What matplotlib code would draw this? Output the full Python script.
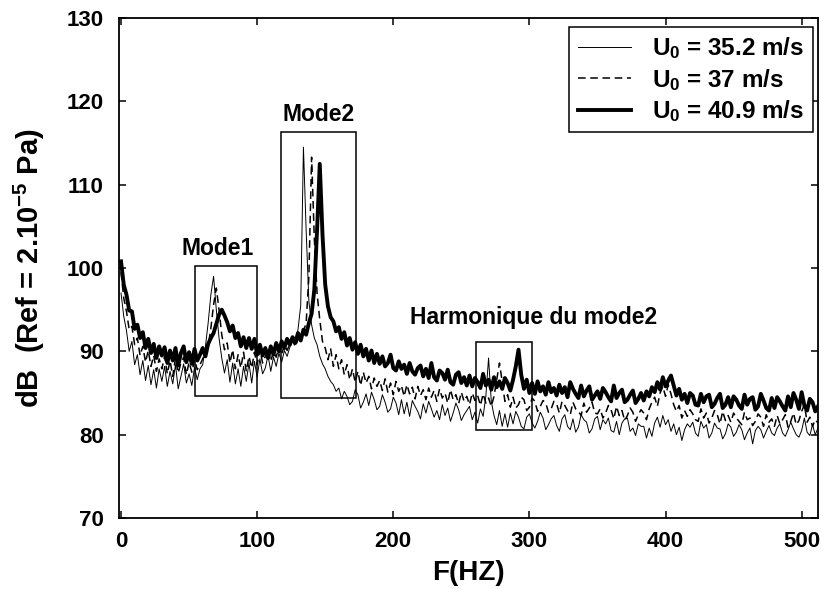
import numpy as np
import matplotlib
matplotlib.use("Agg")
import matplotlib.pyplot as plt
from matplotlib.patches import Rectangle
from matplotlib.lines import Line2D

plt.rcParams['font.family'] = ['Liberation Sans', 'DejaVu Sans']
plt.rcParams['font.weight'] = 'bold'
plt.rcParams['mathtext.fontset'] = 'custom'
plt.rcParams['mathtext.rm'] = 'Liberation Sans:bold'
plt.rcParams['mathtext.bf'] = 'Liberation Sans:bold'
plt.rcParams['mathtext.default'] = 'bf'

# frequence (Hz), pas de 2 Hz
freq_hz = np.arange(0, 513, 2)

# U0 = 35.2 m/s (trait fin)
spl_352 = [
    97.0, 94.2, 92.5, 90.0, 91.2, 88.4, 89.6, 87.2, 88.9, 86.5, 88.3, 86.0, 87.8, 85.6, 87.9, 86.4,
    88.2, 85.8, 87.6, 86.1, 88.4, 85.5, 87.0, 88.5, 86.2, 87.3, 85.9, 88.1, 86.6, 87.9, 88.4, 90.6,
    93.4, 96.8, 99.0, 95.0, 91.6, 89.2, 87.4, 89.0, 86.3, 88.6, 86.1, 87.9, 85.8, 88.2, 86.4, 88.6,
    86.2, 88.8, 86.9, 89.1, 87.3, 88.0, 89.5, 87.6, 89.3, 88.2, 89.8, 88.7, 90.1, 89.4, 90.5, 91.2,
    91.4, 92.6, 95.5, 114.5, 104.5, 96.0, 93.2, 91.6, 90.8, 89.4, 88.5, 87.9, 87.0, 86.4, 86.0, 85.2,
    85.6, 84.3, 85.2, 84.6, 83.6, 84.0, 85.4, 84.8, 83.2, 83.9, 84.9, 83.5, 85.1, 84.2, 83.0, 83.4,
    84.8, 83.9, 82.7, 83.1, 84.5, 83.8, 82.4, 84.2, 82.5, 83.9, 82.2, 84.1, 83.4, 82.8, 81.9, 83.7,
    82.6, 84.0, 83.1, 82.1, 82.9, 81.8, 83.6, 82.3, 83.2, 81.6, 82.6, 83.8, 83.0, 81.7, 82.4, 82.9,
    83.4, 81.8, 82.7, 81.4, 83.1, 82.2, 84.6, 89.2, 84.0, 82.3, 81.2, 82.9, 81.0, 82.5, 80.9, 82.6,
    81.3, 82.8, 82.1, 81.0, 80.7, 82.1, 82.5, 81.4, 80.8, 81.6, 82.7, 82.0, 80.6, 81.2, 81.9, 82.3,
    81.1, 80.4, 81.9, 82.4, 81.0, 80.6, 81.9, 80.3, 80.9, 82.4, 81.8, 81.5, 80.2, 80.7, 81.9, 82.2,
    80.6, 81.8, 81.3, 82.0, 80.5, 80.3, 81.6, 80.0, 81.4, 81.9, 82.0, 80.4, 80.8, 79.9, 81.3, 81.0,
    81.0, 79.6, 80.8, 79.8, 81.4, 82.1, 80.9, 82.3, 81.2, 81.8, 80.4, 81.3, 80.0, 80.9, 79.3, 80.6,
    81.3, 80.9, 81.5, 80.2, 79.8, 81.6, 80.8, 81.2, 79.6, 80.2, 81.4, 80.8, 80.7, 79.5, 80.1, 81.3,
    80.9, 79.8, 80.3, 81.2, 80.6, 79.4, 80.2, 80.8, 78.9, 80.5, 81.0, 80.6, 79.6, 80.4, 81.1, 80.2,
    79.9, 80.8, 81.3, 80.2, 79.8, 80.6, 81.5, 80.7, 80.0, 79.7, 80.5, 82.0, 80.3, 79.9, 81.2, 80.0,
    80.8,
]

# U0 = 37 m/s (tirets)
spl_37 = [
    99.5, 96.4, 94.8, 92.6, 93.0, 90.8, 91.6, 89.5, 90.6, 88.7, 90.1, 88.2, 89.5, 87.6, 89.1, 87.9,
    89.4, 87.3, 88.9, 87.0, 89.2, 87.4, 88.6, 89.3, 87.2, 88.7, 87.5, 89.0, 87.8, 88.4, 89.1, 89.8,
    90.6, 92.8, 95.6, 97.6, 95.0, 92.0, 90.2, 91.0, 88.6, 90.2, 87.9, 89.6, 88.0, 89.9, 87.6, 89.4,
    88.0, 89.9, 88.4, 90.2, 88.6, 89.4, 90.3, 88.8, 90.0, 89.3, 90.6, 89.6, 90.8, 90.1, 90.9, 91.3,
    90.6, 91.4, 91.8, 92.4, 93.4, 99.0, 113.3, 103.5, 97.0, 93.8, 91.2, 90.4, 89.0, 90.3, 88.2, 89.6,
    87.9, 89.0, 87.2, 88.4, 86.6, 87.9, 86.3, 87.6, 85.9, 87.5, 86.2, 87.0, 85.5, 86.8, 85.8, 86.5,
    85.3, 86.7, 85.1, 86.2, 84.8, 86.4, 85.2, 85.9, 84.6, 86.0, 84.9, 85.7, 84.3, 85.8, 84.7, 85.4,
    84.2, 85.6, 84.5, 85.3, 84.0, 85.5, 84.4, 85.0, 83.8, 85.4, 84.2, 84.8, 83.7, 85.1, 84.0, 84.6,
    83.6, 85.0, 84.1, 84.7, 83.5, 84.9, 83.8, 84.4, 83.4, 84.6, 86.6, 88.6, 86.4, 84.0, 84.8, 83.3,
    84.5, 83.2, 83.6, 84.5, 84.2, 82.9, 83.3, 84.4, 84.0, 82.8, 83.4, 84.1, 83.8, 82.7, 83.1, 84.0,
    83.7, 82.6, 84.0, 83.5, 82.9, 82.4, 83.9, 83.1, 82.8, 82.3, 83.8, 82.7, 83.2, 83.9, 82.6, 82.5,
    83.1, 82.0, 82.6, 83.5, 83.0, 81.9, 83.4, 82.3, 82.9, 81.7, 82.3, 83.2, 82.7, 81.6, 82.4, 83.0,
    82.6, 81.8, 83.1, 83.9, 84.5, 83.4, 85.0, 85.8, 84.6, 86.0, 84.9, 83.6, 82.8, 83.5, 82.0, 82.9,
    82.2, 83.0, 82.5, 81.8, 81.6, 83.1, 82.0, 82.6, 81.4, 82.0, 82.9, 82.4, 81.3, 82.8, 81.7, 82.3,
    81.5, 82.6, 82.0, 81.6, 81.2, 82.7, 81.8, 82.0, 81.1, 81.6, 82.5, 82.1, 81.0, 82.4, 81.5, 81.9,
    81.0, 82.3, 81.3, 81.8, 82.4, 80.9, 81.6, 82.6, 81.2, 81.7, 82.8, 83.6, 81.5, 82.1, 81.0, 81.8,
    81.4,
]

# U0 = 40.9 m/s (trait epais)
spl_409 = [
    100.8, 98.0, 96.8, 94.9, 94.8, 92.7, 93.2, 91.6, 92.3, 90.4, 91.5, 89.8, 90.9, 89.2, 90.6, 89.5,
    90.5, 88.6, 90.1, 88.9, 90.4, 88.3, 89.8, 90.6, 88.7, 89.9, 88.5, 90.3, 88.9, 89.6, 90.4, 89.4,
    90.9, 91.6, 92.2, 93.3, 94.4, 95.0, 94.3, 93.5, 92.4, 93.1, 91.6, 92.2, 90.6, 91.7, 90.4, 91.6,
    90.3, 91.5, 89.6, 90.8, 89.5, 90.4, 89.2, 90.6, 89.6, 91.0, 90.0, 91.2, 90.4, 91.5, 90.8, 91.7,
    91.0, 92.2, 91.3, 92.6, 92.0, 93.4, 94.5, 97.4, 104.5, 112.5, 104.0, 98.0, 95.4, 94.1, 93.6, 92.4,
    92.9, 91.5, 92.3, 90.7, 91.6, 90.2, 91.1, 89.7, 90.8, 89.4, 90.3, 88.9, 90.1, 88.6, 89.7, 88.5,
    89.4, 88.2, 88.6, 89.6, 88.0, 87.7, 88.8, 87.9, 88.4, 87.3, 88.6, 87.6, 87.2, 88.0, 88.3, 87.0,
    87.9, 86.8, 88.6, 86.9, 86.5, 87.7, 87.4, 86.6, 87.8, 86.3, 86.0, 87.2, 87.5, 86.2, 86.9, 85.9,
    87.1, 85.8, 86.8, 86.3, 85.6, 87.3, 85.9, 86.6, 85.4, 86.9, 85.7, 86.4, 85.5, 86.8, 86.2, 85.3,
    86.6, 88.2, 90.2, 87.2, 85.5, 86.6, 85.0, 86.2, 84.9, 86.4, 85.2, 85.8, 84.8, 86.3, 85.1, 85.6,
    84.7, 86.0, 85.0, 85.7, 84.5, 86.3, 85.5, 84.9, 84.4, 85.9, 84.6, 85.3, 85.8, 84.2, 84.7, 85.2,
    84.3, 85.6, 85.1, 84.5, 84.0, 85.9, 84.4, 85.0, 85.4, 83.9, 84.2, 84.8, 85.3, 83.8, 84.3, 85.0,
    84.1, 85.2, 84.6, 85.7, 85.1, 86.3, 85.4, 86.9, 85.8, 86.5, 87.1, 85.9, 84.7, 85.5, 84.2, 84.9,
    83.8, 85.0, 84.7, 83.6, 83.5, 84.9, 83.9, 84.6, 84.8, 83.3, 83.7, 84.4, 84.9, 83.2, 83.6, 84.5,
    83.3, 84.6, 84.2, 83.5, 83.1, 84.8, 83.6, 84.3, 84.5, 83.0, 83.4, 84.9, 84.1, 83.2, 82.9, 84.4,
    83.2, 84.5, 84.0, 83.4, 82.9, 84.6, 83.3, 85.0, 84.2, 83.1, 85.1, 83.5, 82.9, 84.3, 83.9, 82.8,
    83.4,
]

labels = [r"U$_0$ = 35.2 m/s", r"U$_0$ = 37 m/s", r"U$_0$ = 40.9 m/s"]

# zones encadrees : (f_min, f_max, dB_min, dB_max)
zones = [(54, 100, 84.6, 100.2), (117.5, 172.5, 84.4, 116.3), (261, 302, 80.6, 91.1)]
zone_textes = ["Mode1", "Mode2", "Harmonique du mode2"]
zone_texte_pos = [(71, 102.3), (145, 118.4), (303, 94.1)]

fig = plt.figure(figsize=(8.24, 5.89), dpi=100)
ax = fig.add_axes([0.1444, 0.1205, 0.8483, 0.8489])

ax.plot(freq_hz, spl_352, color="black", lw=0.7, zorder=2)
ax.plot(freq_hz, spl_37, color="black", lw=1.1, ls=(0, (5, 3)), zorder=3)
ax.plot(freq_hz, spl_409, color="black", lw=2.8, zorder=4)

for (f0, f1, d0, d1), txt, (tx, ty) in zip(zones, zone_textes, zone_texte_pos):
    ax.add_patch(Rectangle((f0, d0), f1 - f0, d1 - d0, fill=False, ec="black", lw=1.1, zorder=5))
    ax.text(tx, ty, txt, ha="center", va="center", fontsize=16.5, fontweight="bold")

ax.set_xlim(-1.5, 512)
ax.set_ylim(70, 130)
ax.set_xticks([0, 100, 200, 300, 400, 500])
ax.set_yticks([70, 80, 90, 100, 110, 120, 130])
ax.tick_params(direction="in", length=5, width=1.1, top=True, right=True, labelsize=16)
ax.tick_params(axis="x", pad=9)
ax.tick_params(axis="y", pad=11)
for s in ax.spines.values():
    s.set_linewidth(1.3)

ax.set_xlabel("F(HZ)", fontsize=20, fontweight="bold", labelpad=6)
ax.set_ylabel(r"dB  (Ref = 2.10$^{-5}$ Pa)", fontsize=21, fontweight="bold", labelpad=14)

handles = [
    Line2D([], [], color="black", lw=0.7),
    Line2D([], [], color="black", lw=1.1, ls=(0, (5, 3))),
    Line2D([], [], color="black", lw=2.8),
]
leg = ax.legend(handles, labels, loc="upper right", bbox_to_anchor=(0.993, 0.982),
                borderaxespad=0, fancybox=False, edgecolor="black", framealpha=1,
                fontsize=17.5, handlelength=2.2, handletextpad=0.88, labelspacing=0.22,
                borderpad=0.35)
leg.get_frame().set_linewidth(1.1)

fig.savefig("out.png", dpi=100)
